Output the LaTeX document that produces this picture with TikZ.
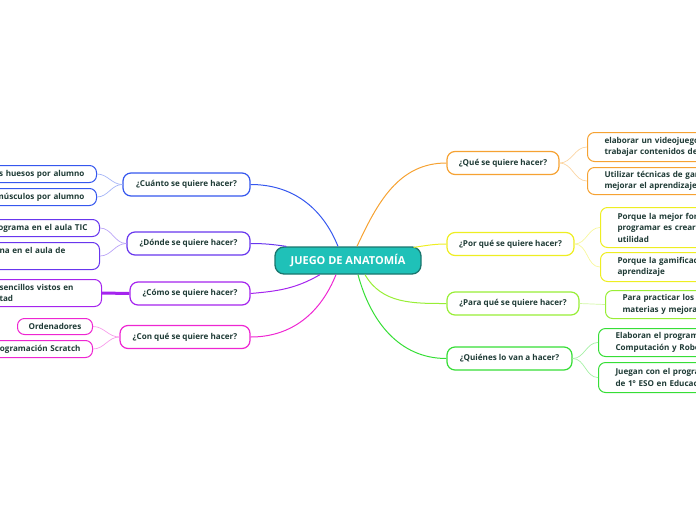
\documentclass[tikz,border=0pt]{standalone}
\usepackage{fontspec}
\setmainfont{Open Sans}
\usetikzlibrary{positioning,
                calc}
\definecolor{inkdark}{HTML}{1F3B36}
\definecolor{tealfill}{HTML}{1FC1B8}
\definecolor{tealdraw}{HTML}{1A766E}
\definecolor{cblue}{HTML}{3557EE}
\definecolor{cviolet}{HTML}{6836EE}
\definecolor{cpurple}{HTML}{A524EE}
\definecolor{cmagenta}{HTML}{EE26D2}
\definecolor{corange}{HTML}{F6A232}
\definecolor{cyellow}{HTML}{EEEE22}
\definecolor{clime}{HTML}{98EE36}
\definecolor{cgreen}{HTML}{36DE36}
\tikzset{central/.style=
   {rectangle,
    draw=tealdraw,
    fill=tealfill,
    line width=1.3pt,
    rounded corners=9pt,
    text=white,
    font=\fontsize{11}{12}\selectfont\bfseries,
    minimum width=146pt,
    minimum height=27pt}}
\tikzset{branch/.style=
   {rectangle,
    draw,
    fill=white,
    line width=1.2pt,
    rounded corners=8pt,
    text=inkdark,
    text centered,
    inner xsep=2pt,
    font=\fontsize{8.1}{11.5}\selectfont\bfseries,
    minimum height=23pt}}
\tikzset{leaf/.style=
   {rectangle,
    draw,
    fill=white,
    line width=1pt,
    rounded corners=7pt,
    text=inkdark,
    align=left,
    inner xsep=12pt,
    inner ysep=1pt,
    font=\fontsize{8.1}{11.5}\selectfont\bfseries}}
\tikzset{leaf-right/.style=
   {leaf,
    anchor=north west,
    inner xsep=17pt,
    text width=160pt}}
\tikzset{leaf-left/.style=
   {leaf,
    anchor=north east}}
\tikzset{leaf-left-one/.style=
   {leaf-left,
    align=right,
    text width=110pt,
    minimum height=17pt}}
\tikzset{link/.style = {draw, line width=1pt}}
\tikzset{twig/.style = {draw, line width=0.7pt}}

\begin{document}
\begin{tikzpicture}[x=1pt,y=-1pt]

    \useasboundingbox (0,0) rectangle (696,520);

    % central topic
    \node [central] (juego) at (348,260.5) {JUEGO DE ANATOM\'IA};

    % left branches
    \node [branch, draw=cblue,    minimum width=127pt] (cuanto) at (186.5,184.5) {¿Cuánto se quiere hacer?};
    \node [branch, draw=cviolet,  minimum width=123pt] (donde)  at (188.5,243.5) {¿Dónde se quiere hacer?};
    \node [branch, draw=cpurple,  minimum width=120pt] (como)   at (190,293.5)   {¿Cómo se quiere hacer?};
    \node [branch, draw=cmagenta, minimum width=130pt] (conque) at (185,337)     {¿Con qué se quiere hacer?};

    % right branches
    \node [branch, draw=corange,  minimum width=112pt] (que)     at (503,163)   {¿Qué se quiere hacer?};
    \node [branch, draw=cyellow,  minimum width=127pt] (porque)  at (510.5,244) {¿Por qué se quiere hacer?};
    \node [branch, draw=clime,    minimum width=132pt] (paraque) at (513,303.5) {¿Para qué se quiere hacer?};
    \node [branch, draw=cgreen,   minimum width=125pt] (quienes) at (509.5,358.5) {¿Quiénes lo van a hacer?};

    % right leaves
    \node [leaf-right, draw=corange, minimum height=29pt] (que1) at (587,132)
    {elaborar un videojuego para\\trabajar contenidos de};
    \node [leaf-right, draw=corange, minimum height=27pt] (que2) at (587,167)
    {Utilizar técnicas de gamificación\\mejorar el aprendizaje};

    \node [leaf-right, draw=cyellow, minimum height=40pt] (porque1) at (600,207)
    {Porque la mejor forma\\programar es crear\\utilidad};
    \node [leaf-right, draw=cyellow, minimum height=29pt] (porque2) at (600,252)
    {Porque la gamificación\\aprendizaje};

    \node [leaf-right, draw=clime, minimum height=28pt] (paraque1) at (605,290)
    {Para practicar los contenidos\\materias y mejorar};

    \node [leaf-right, draw=cgreen, minimum height=28pt] (quienes1) at (598,328)
    {Elaboran el programa\\Computación y Robótica};
    \node [leaf-right, draw=cgreen, minimum height=30pt] (quienes2) at (598,362)
    {Juegan con el programa\\de 1º ESO en Educación};

    % left leaves
    \node [leaf-left-one, draw=cblue] (cuanto1) at (97,165)
    {os huesos por alumno};
    \node [leaf-left-one, draw=cblue] (cuanto2) at (97,188)
    {músculos por alumno};

    \node [leaf-left-one, draw=cviolet] (donde1) at (100,219)
    {rograma en el aula TIC};
    \node [leaf-left, draw=cviolet, text width=88pt, minimum height=27pt] (donde2) at (100,242)
    {na en el aula de\\\mbox{}};

    \node [leaf-left, draw=cpurple, text width=90pt, minimum height=27pt] (como1) at (102,279)
    {sencillos vistos en\\tad};

    \node [leaf-left, draw=cmagenta, align=center, inner xsep=4pt,
           minimum width=75pt, minimum height=16pt] (conque1) at (93,318)
    {Ordenadores};
    \node [leaf-left-one, draw=cmagenta] (conque2) at (93,340)
    {rogramación Scratch};

    % links from the central topic
    \draw [link, cblue]    (cuanto.east) to[out=0,in=112] ($(juego.north)+(-10,0)$);
    \draw [link, cviolet]  (donde.east)  to[out=0,in=172] ($(juego.north west)+(12,0)$);
    \draw [link, cpurple]  (como.east)   to[out=5,in=-150] ($(juego.south)+(-28,0)$);
    \draw [link, cmagenta] (conque.east) to[out=0,in=-112] ($(juego.south)+(-12,0)$);
    \draw [link, corange]  (que.west)    to[out=180,in=65] ($(juego.north)+(9,0)$);
    \draw [link, cyellow]  (porque.west) to[out=180,in=8] ($(juego.north east)+(-8,1)$);
    \draw [link, clime]    (paraque.west) to[out=180,in=-60] ($(juego.south)+(17,0)$);
    \draw [link, cgreen]   (quienes.west) to[out=180,in=-75] ($(juego.south)+(10,0)$);

    % links to the leaves
    \draw [twig, cblue!45]    (cuanto.west) to[out=180,in=0] (cuanto1.east);
    \draw [twig, cblue!45]    (cuanto.west) to[out=180,in=0] (cuanto2.east);
    \draw [twig, cviolet!45]  (donde.west)  to[out=180,in=0] (donde1.east);
    \draw [twig, cviolet!45]  (donde.west)  to[out=180,in=0] (donde2.east);
    \draw [cpurple, line width=3pt] (como.west) -- (como1.east);
    \draw [twig, cmagenta!45] (conque.west) to[out=180,in=0] (conque1.east);
    \draw [twig, cmagenta!45] (conque.west) to[out=180,in=0] (conque2.east);
    \draw [twig, corange!45]  (que.east)    to[out=0,in=180] (que1.west);
    \draw [twig, corange!45]  (que.east)    to[out=0,in=180] (que2.west);
    \draw [twig, cyellow!45]  (porque.east) to[out=0,in=180] (porque1.west);
    \draw [twig, cyellow!45]  (porque.east) to[out=0,in=180] (porque2.west);
    \draw [twig, clime!45]    (paraque.east) -- (paraque1.west);
    \draw [twig, cgreen!45]   (quienes.east) to[out=0,in=180] (quienes1.west);
    \draw [twig, cgreen!45]   (quienes.east) to[out=0,in=180] (quienes2.west);

\end{tikzpicture}
\end{document}
